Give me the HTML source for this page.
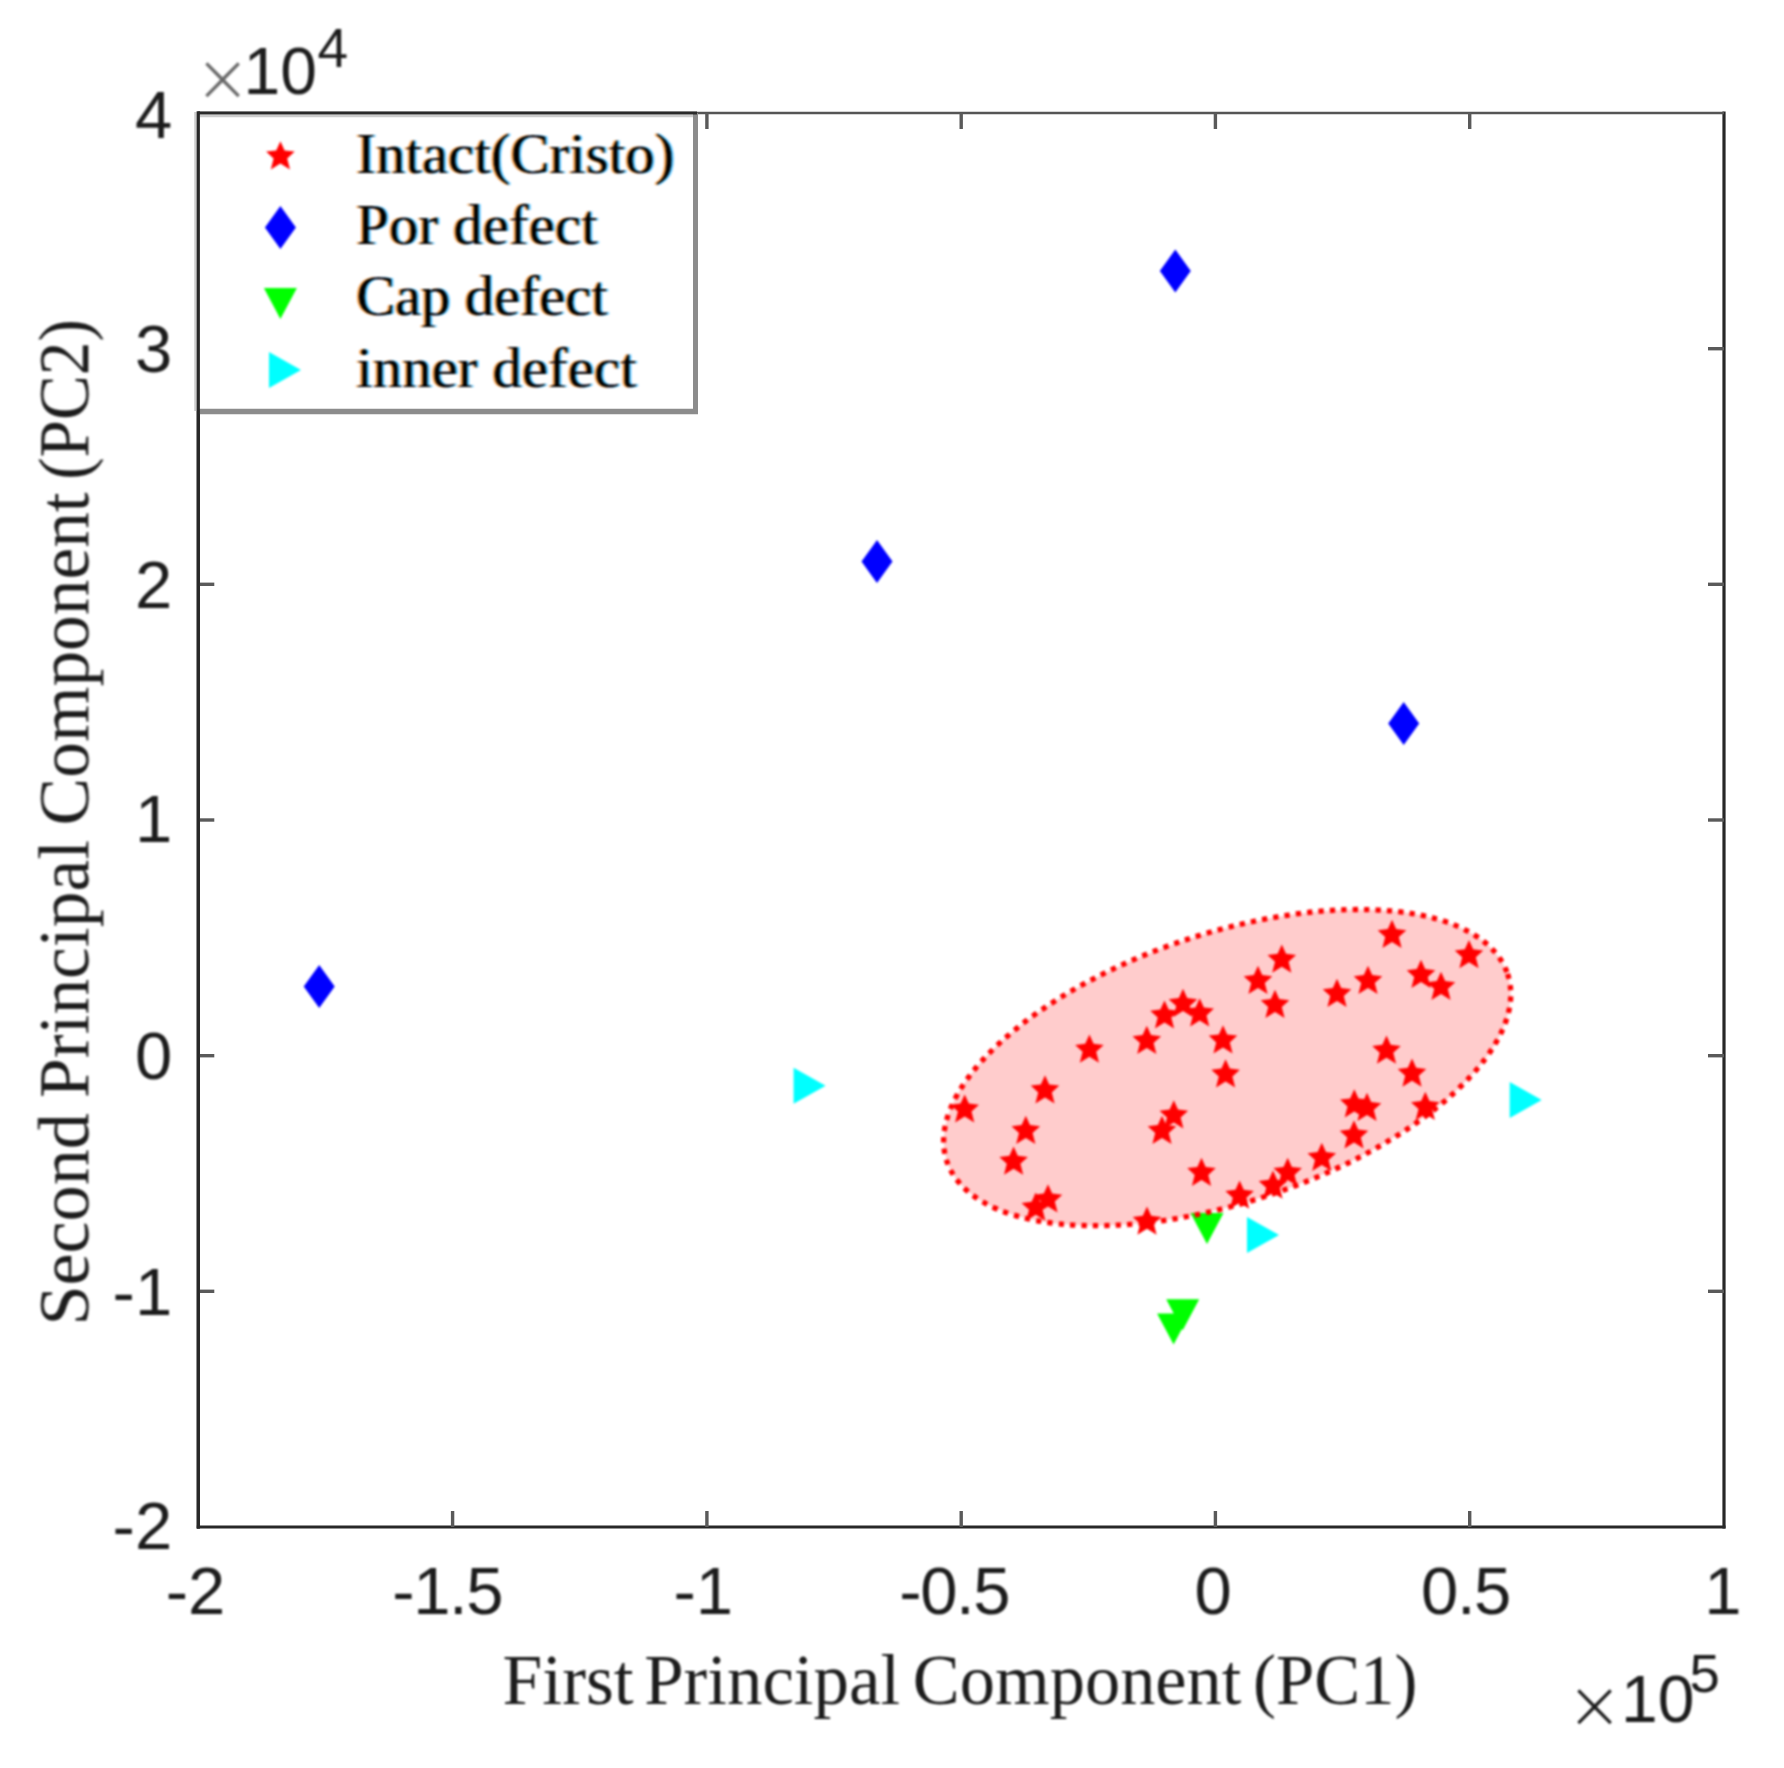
<!DOCTYPE html>
<html><head><meta charset="utf-8"><title>PCA scatter</title>
<style>
html,body{margin:0;padding:0;background:#fff;}
body{width:1784px;height:1768px;overflow:hidden;}
svg{display:block;}
.soft{filter:blur(0.9px);}
.crisp{filter:blur(0.35px);}
.sans{font-family:"Liberation Sans",Arial,sans-serif;fill:#1c1c1c;}
.serif{font-family:"Liberation Serif","Times New Roman",serif;}
</style></head><body>
<svg width="1784" height="1768" viewBox="0 0 1784 1768">
<defs><filter id="ct" x="-3%" y="-10%" width="106%" height="120%">
<feFlood flood-color="#f08a24" flood-opacity="0.85"/><feComposite in2="SourceAlpha" operator="in"/><feOffset dx="-1.7" result="ol"/>
<feFlood flood-color="#2fb4ff" flood-opacity="0.85"/><feComposite in2="SourceAlpha" operator="in"/><feOffset dx="1.7" result="br"/>
<feMerge><feMergeNode in="ol"/><feMergeNode in="br"/><feMergeNode in="SourceGraphic"/></feMerge></filter></defs>
<rect width="1784" height="1768" fill="#fff"/>
<g class="crisp">
<g stroke="#282828" stroke-width="3.2" fill="none">
<line x1="198.3" y1="111.5" x2="198.3" y2="1528.5"/>
<line x1="196.8" y1="1527" x2="1725.5" y2="1527"/>
<line x1="1724" y1="111.5" x2="1724" y2="1528.5"/>
</g>
<line x1="198.3" y1="113" x2="1724" y2="113" stroke="#555" stroke-width="2.4"/>
<g stroke="#5a5a5a" stroke-width="3.4">
<line x1="452.6" y1="1527" x2="452.6" y2="1511"/>
<line x1="452.6" y1="113" x2="452.6" y2="129"/>
<line x1="706.9" y1="1527" x2="706.9" y2="1511"/>
<line x1="706.9" y1="113" x2="706.9" y2="129"/>
<line x1="961.2" y1="1527" x2="961.2" y2="1511"/>
<line x1="961.2" y1="113" x2="961.2" y2="129"/>
<line x1="1215.4" y1="1527" x2="1215.4" y2="1511"/>
<line x1="1215.4" y1="113" x2="1215.4" y2="129"/>
<line x1="1469.7" y1="1527" x2="1469.7" y2="1511"/>
<line x1="1469.7" y1="113" x2="1469.7" y2="129"/>
<line x1="198.3" y1="348.7" x2="214.3" y2="348.7"/>
<line x1="1724" y1="348.7" x2="1708" y2="348.7"/>
<line x1="198.3" y1="584.3" x2="214.3" y2="584.3"/>
<line x1="1724" y1="584.3" x2="1708" y2="584.3"/>
<line x1="198.3" y1="820.0" x2="214.3" y2="820.0"/>
<line x1="1724" y1="820.0" x2="1708" y2="820.0"/>
<line x1="198.3" y1="1055.7" x2="214.3" y2="1055.7"/>
<line x1="1724" y1="1055.7" x2="1708" y2="1055.7"/>
<line x1="198.3" y1="1291.3" x2="214.3" y2="1291.3"/>
<line x1="1724" y1="1291.3" x2="1708" y2="1291.3"/>
</g>
</g>
<g class="soft">
<g class="sans" font-size="67" text-anchor="middle" transform="scale(1,1.0)">
<text x="195.6" y="1614.3">-2</text>
<text x="447.2" y="1614.3" letter-spacing="-1.4">-1.5</text>
<text x="703.2" y="1614.3">-1</text>
<text x="954.2" y="1614.3" letter-spacing="-1.4">-0.5</text>
<text x="1213.2" y="1614.3">0</text>
<text x="1465.5" y="1614.3" letter-spacing="-1.4">0.5</text>
<text x="1723.0" y="1614.3">1</text>
</g>
<g class="sans" font-size="67" text-anchor="end" transform="scale(1,1.0)">
<text x="172.2" y="138.0">4</text>
<text x="172.2" y="372.3">3</text>
<text x="172.2" y="607.5">2</text>
<text x="172.2" y="842.3">1</text>
<text x="172.2" y="1079.3">0</text>
<text x="172.2" y="1314.5">-1</text>
<text x="172.2" y="1549.0">-2</text>
</g>
<text class="sans" font-size="67"><tspan x="194.5" y="101.3" font-size="67" fill="#686868" font-family="DejaVu Sans Light,DejaVu Sans,sans-serif">×</tspan><tspan x="243.5" y="93.5" font-size="66">10</tspan><tspan x="317.5" y="67.2" font-size="55">4</tspan></text>
<text class="sans" font-size="67"><tspan x="1566.6" y="1727.7" font-size="67" fill="#1c1c1c" font-family="DejaVu Sans Light,DejaVu Sans,sans-serif">×</tspan><tspan x="1621" y="1721.7" font-size="66">10</tspan><tspan x="1689.5" y="1691.7" font-size="54.5">5</tspan></text>
<text class="serif" fill="#1c1c1c" font-size="72" y="1703.5"><tspan x="502.6" textLength="131" lengthAdjust="spacingAndGlyphs">First</tspan> <tspan x="644.2" textLength="256" lengthAdjust="spacingAndGlyphs">Principal</tspan> <tspan x="912.8" textLength="328.6" lengthAdjust="spacingAndGlyphs">Component</tspan> <tspan x="1253" textLength="164.4" lengthAdjust="spacingAndGlyphs">(PC1)</tspan></text>
<text class="serif" fill="#1c1c1c" font-size="72" transform="translate(88.3,0) rotate(-90)" y="0"><tspan x="-1325.6" textLength="212.5" lengthAdjust="spacingAndGlyphs">Second</tspan> <tspan x="-1098" textLength="258" lengthAdjust="spacingAndGlyphs">Principal</tspan> <tspan x="-825.4" textLength="333.1" lengthAdjust="spacingAndGlyphs">Component</tspan> <tspan x="-479.8" textLength="160.6" lengthAdjust="spacingAndGlyphs">(PC2)</tspan></text>
<path fill="#0000ff" d="M1175.3,249.4 L1190.8,270.9 L1175.3,292.4 L1159.8,270.9Z M877.0,540.1 L892.5,561.6 L877.0,583.1 L861.5,561.6Z M1403.7,702.1 L1419.2,723.6 L1403.7,745.1 L1388.2,723.6Z M319.2,964.9 L334.7,986.4 L319.2,1007.9 L303.7,986.4Z"/>
<path fill="#00ff00" d="M1190.5,1213.0 L1223.5,1213.0 L1207.0,1244.0Z M1166.2,1299.2 L1199.2,1299.2 L1182.7,1330.2Z M1157.1,1313.4 L1190.1,1313.4 L1173.6,1344.4Z"/>
<path fill="#00ffff" d="M793.6,1067.8 L825.6,1085.8 L793.6,1103.8Z M1247.0,1216.9 L1279.0,1234.9 L1247.0,1252.9Z M1509.7,1082.0 L1541.7,1100.0 L1509.7,1118.0Z"/>
<ellipse cx="1227.2" cy="1067.6" rx="295.6" ry="134.3" transform="rotate(-18.47 1227.2 1067.6)" fill="#ff0000" fill-opacity="0.2" stroke="#ff0000" stroke-width="5.3" stroke-dasharray="5.3 6.1"/>
<path fill="#ff0000" d="M1392.0,919.8 L1396.2,929.0 L1406.3,930.2 L1398.8,937.0 L1401.6,948.0 L1392.0,942.0 L1382.4,948.0 L1385.2,937.0 L1377.7,930.2 L1387.8,929.0Z M1469.0,940.1 L1473.2,949.3 L1483.3,950.5 L1475.8,957.3 L1478.6,968.3 L1469.0,962.3 L1459.4,968.3 L1462.2,957.3 L1454.7,950.5 L1464.8,949.3Z M1281.8,944.6 L1286.0,953.8 L1296.1,955.0 L1288.6,961.8 L1291.4,972.8 L1281.8,966.8 L1272.2,972.8 L1275.0,961.8 L1267.5,955.0 L1277.6,953.8Z M1258.0,965.8 L1262.2,975.0 L1272.3,976.2 L1264.8,983.0 L1267.6,994.0 L1258.0,988.0 L1248.4,994.0 L1251.2,983.0 L1243.7,976.2 L1253.8,975.0Z M1368.0,965.8 L1372.2,975.0 L1382.3,976.2 L1374.8,983.0 L1377.6,994.0 L1368.0,988.0 L1358.4,994.0 L1361.2,983.0 L1353.7,976.2 L1363.8,975.0Z M1421.0,959.8 L1425.2,969.0 L1435.3,970.2 L1427.8,977.0 L1430.6,988.0 L1421.0,982.0 L1411.4,988.0 L1414.2,977.0 L1406.7,970.2 L1416.8,969.0Z M1441.0,971.8 L1445.2,981.0 L1455.3,982.2 L1447.8,989.0 L1450.6,1000.0 L1441.0,994.0 L1431.4,1000.0 L1434.2,989.0 L1426.7,982.2 L1436.8,981.0Z M1337.0,978.8 L1341.2,988.0 L1351.3,989.2 L1343.8,996.0 L1346.6,1007.0 L1337.0,1001.0 L1327.4,1007.0 L1330.2,996.0 L1322.7,989.2 L1332.8,988.0Z M1275.0,989.8 L1279.2,999.0 L1289.3,1000.2 L1281.8,1007.0 L1284.6,1018.0 L1275.0,1012.0 L1265.4,1018.0 L1268.2,1007.0 L1260.7,1000.2 L1270.8,999.0Z M1183.0,988.8 L1187.2,998.0 L1197.3,999.2 L1189.8,1006.0 L1192.6,1017.0 L1183.0,1011.0 L1173.4,1017.0 L1176.2,1006.0 L1168.7,999.2 L1178.8,998.0Z M1164.5,1000.4 L1168.7,1009.6 L1178.8,1010.8 L1171.3,1017.6 L1174.1,1028.6 L1164.5,1022.6 L1154.9,1028.6 L1157.7,1017.6 L1150.2,1010.8 L1160.3,1009.6Z M1199.7,998.2 L1203.9,1007.4 L1214.0,1008.6 L1206.5,1015.4 L1209.3,1026.4 L1199.7,1020.4 L1190.1,1026.4 L1192.9,1015.4 L1185.4,1008.6 L1195.5,1007.4Z M1146.8,1025.8 L1151.0,1035.0 L1161.1,1036.2 L1153.6,1043.0 L1156.4,1054.0 L1146.8,1048.0 L1137.2,1054.0 L1140.0,1043.0 L1132.5,1036.2 L1142.6,1035.0Z M1223.0,1025.2 L1227.2,1034.4 L1237.3,1035.6 L1229.8,1042.4 L1232.6,1053.4 L1223.0,1047.4 L1213.4,1053.4 L1216.2,1042.4 L1208.7,1035.6 L1218.8,1034.4Z M1089.4,1034.5 L1093.6,1043.7 L1103.7,1044.9 L1096.2,1051.7 L1099.0,1062.7 L1089.4,1056.7 L1079.8,1062.7 L1082.6,1051.7 L1075.1,1044.9 L1085.2,1043.7Z M1386.5,1035.6 L1390.7,1044.8 L1400.8,1046.0 L1393.3,1052.8 L1396.1,1063.8 L1386.5,1057.8 L1376.9,1063.8 L1379.7,1052.8 L1372.2,1046.0 L1382.3,1044.8Z M1225.6,1059.3 L1229.8,1068.5 L1239.9,1069.7 L1232.4,1076.5 L1235.2,1087.5 L1225.6,1081.5 L1216.0,1087.5 L1218.8,1076.5 L1211.3,1069.7 L1221.4,1068.5Z M1412.0,1058.5 L1416.2,1067.7 L1426.3,1068.9 L1418.8,1075.7 L1421.6,1086.7 L1412.0,1080.7 L1402.4,1086.7 L1405.2,1075.7 L1397.7,1068.9 L1407.8,1067.7Z M1045.0,1075.2 L1049.2,1084.4 L1059.3,1085.6 L1051.8,1092.4 L1054.6,1103.4 L1045.0,1097.4 L1035.4,1103.4 L1038.2,1092.4 L1030.7,1085.6 L1040.8,1084.4Z M964.7,1094.4 L968.9,1103.6 L979.0,1104.8 L971.5,1111.6 L974.3,1122.6 L964.7,1116.6 L955.1,1122.6 L957.9,1111.6 L950.4,1104.8 L960.5,1103.6Z M1354.3,1089.2 L1358.5,1098.4 L1368.6,1099.6 L1361.1,1106.4 L1363.9,1117.4 L1354.3,1111.4 L1344.7,1117.4 L1347.5,1106.4 L1340.0,1099.6 L1350.1,1098.4Z M1367.0,1092.8 L1371.2,1102.0 L1381.3,1103.2 L1373.8,1110.0 L1376.6,1121.0 L1367.0,1115.0 L1357.4,1121.0 L1360.2,1110.0 L1352.7,1103.2 L1362.8,1102.0Z M1425.3,1091.8 L1429.5,1101.0 L1439.6,1102.2 L1432.1,1109.0 L1434.9,1120.0 L1425.3,1114.0 L1415.7,1120.0 L1418.5,1109.0 L1411.0,1102.2 L1421.1,1101.0Z M1173.8,1100.3 L1178.0,1109.5 L1188.1,1110.7 L1180.6,1117.5 L1183.4,1128.5 L1173.8,1122.5 L1164.2,1128.5 L1167.0,1117.5 L1159.5,1110.7 L1169.6,1109.5Z M1162.0,1115.8 L1166.2,1125.0 L1176.3,1126.2 L1168.8,1133.0 L1171.6,1144.0 L1162.0,1138.0 L1152.4,1144.0 L1155.2,1133.0 L1147.7,1126.2 L1157.8,1125.0Z M1025.8,1115.8 L1030.0,1125.0 L1040.1,1126.2 L1032.6,1133.0 L1035.4,1144.0 L1025.8,1138.0 L1016.2,1144.0 L1019.0,1133.0 L1011.5,1126.2 L1021.6,1125.0Z M1354.0,1120.3 L1358.2,1129.5 L1368.3,1130.7 L1360.8,1137.5 L1363.6,1148.5 L1354.0,1142.5 L1344.4,1148.5 L1347.2,1137.5 L1339.7,1130.7 L1349.8,1129.5Z M1013.6,1146.6 L1017.8,1155.8 L1027.9,1157.0 L1020.4,1163.8 L1023.2,1174.8 L1013.6,1168.8 L1004.0,1174.8 L1006.8,1163.8 L999.3,1157.0 L1009.4,1155.8Z M1321.8,1142.8 L1326.0,1152.0 L1336.1,1153.2 L1328.6,1160.0 L1331.4,1171.0 L1321.8,1165.0 L1312.2,1171.0 L1315.0,1160.0 L1307.5,1153.2 L1317.6,1152.0Z M1201.5,1157.7 L1205.7,1166.9 L1215.8,1168.1 L1208.3,1174.9 L1211.1,1185.9 L1201.5,1179.9 L1191.9,1185.9 L1194.7,1174.9 L1187.2,1168.1 L1197.3,1166.9Z M1287.7,1157.7 L1291.9,1166.9 L1302.0,1168.1 L1294.5,1174.9 L1297.3,1185.9 L1287.7,1179.9 L1278.1,1185.9 L1280.9,1174.9 L1273.4,1168.1 L1283.5,1166.9Z M1273.0,1170.6 L1277.2,1179.8 L1287.3,1181.0 L1279.8,1187.8 L1282.6,1198.8 L1273.0,1192.8 L1263.4,1198.8 L1266.2,1187.8 L1258.7,1181.0 L1268.8,1179.8Z M1239.6,1180.6 L1243.8,1189.8 L1253.9,1191.0 L1246.4,1197.8 L1249.2,1208.8 L1239.6,1202.8 L1230.0,1208.8 L1232.8,1197.8 L1225.3,1191.0 L1235.4,1189.8Z M1048.0,1184.3 L1052.2,1193.5 L1062.3,1194.7 L1054.8,1201.5 L1057.6,1212.5 L1048.0,1206.5 L1038.4,1212.5 L1041.2,1201.5 L1033.7,1194.7 L1043.8,1193.5Z M1035.8,1192.5 L1040.0,1201.7 L1050.1,1202.9 L1042.6,1209.7 L1045.4,1220.7 L1035.8,1214.7 L1026.2,1220.7 L1029.0,1209.7 L1021.5,1202.9 L1031.6,1201.7Z M1147.0,1206.5 L1151.2,1215.7 L1161.3,1216.9 L1153.8,1223.7 L1156.6,1234.7 L1147.0,1228.7 L1137.4,1234.7 L1140.2,1223.7 L1132.7,1216.9 L1142.8,1215.7Z"/>
</g>
<g class="crisp">
<rect x="198" y="113" width="498" height="298" fill="#fff"/>
<line x1="695.5" y1="113" x2="695.5" y2="414" stroke="#8c8c8c" stroke-width="5"/>
<line x1="198" y1="411.5" x2="698" y2="411.5" stroke="#8c8c8c" stroke-width="5.5"/>
<line x1="195.5" y1="112" x2="195.5" y2="411" stroke="#ccc" stroke-width="2.5"/>
<line x1="200" y1="116" x2="693" y2="116" stroke="#ccc" stroke-width="2.5"/>
<line x1="198.3" y1="111.5" x2="198.3" y2="1528.5" stroke="#282828" stroke-width="3.2"/>
<line x1="198.3" y1="113" x2="697" y2="113" stroke="#2a2a2a" stroke-width="3"/>
</g>
<g class="soft">
<path fill="#ff0000" d="M280.4,141.2 L284.6,150.4 L294.7,151.6 L287.2,158.4 L290.0,169.4 L280.4,163.4 L270.8,169.4 L273.6,158.4 L266.1,151.6 L276.2,150.4Z"/>
<path fill="#0000ff" d="M280.4,205.9 L295.9,227.4 L280.4,248.9 L264.9,227.4Z"/>
<path fill="#00ff00" d="M263.9,288.0 L296.9,288.0 L280.4,319.0Z"/>
<path fill="#00ffff" d="M269.0,352.0 L301.0,370.0 L269.0,388.0Z"/>
<g class="serif" fill="#000" font-size="58" filter="url(#ct)">
<text x="356.5" y="173.3" textLength="317.8" lengthAdjust="spacing">Intact(Cristo)</text>
<text x="356.5" y="243.7" textLength="241" lengthAdjust="spacing">Por defect</text>
<text x="356.5" y="314.8" textLength="251" lengthAdjust="spacing">Cap defect</text>
<text x="356.5" y="387.1" textLength="280" lengthAdjust="spacing">inner defect</text>
</g>
</g>
</svg></body></html>
